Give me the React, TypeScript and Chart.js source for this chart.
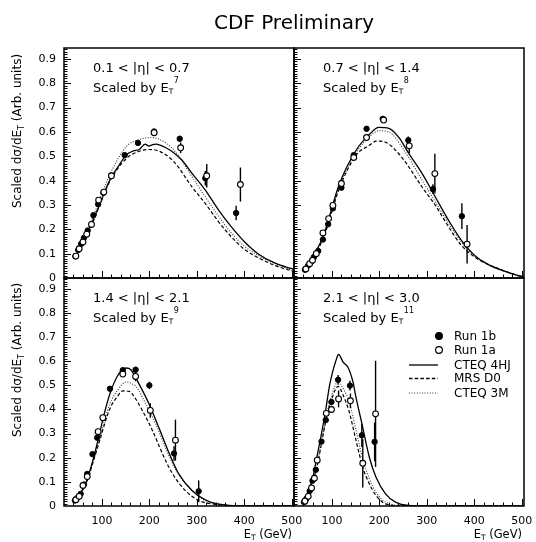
import React, { useEffect, useRef } from "react";
import { Chart, registerables } from "chart.js";

Chart.register(...registerables);

const W = 536;
const H = 542;
const FONT = "'DejaVu Sans', sans-serif";

// Axis ranges and ticks
const X_MIN = 20;
const X_MAX = 505;
const Y_MIN = 0;
const Y_MAX = 0.945;
const X_TICKS = [100, 200, 300, 400, 500];
const Y_TICKS = [0, 0.1, 0.2, 0.3, 0.4, 0.5, 0.6, 0.7, 0.8, 0.9];
const Y_TICK_LABELS = ["0", "0.1", "0.2", "0.3", "0.4", "0.5", "0.6", "0.7", "0.8", "0.9"];

const MAIN_TITLE = "CDF Preliminary";
const LEGEND_LABELS = ["Run 1b", "Run 1a", "CTEQ 4HJ", "MRS D0", "CTEQ 3M"];

// ---------- Panel 1: 0.1 < |eta| < 0.7 ----------
const TL_1B_X = [44, 50, 56, 62, 70, 82, 92, 103, 120, 148, 176, 210, 264, 318, 383];
const TL_1B_Y = [0.089, 0.115, 0.14, 0.165, 0.195, 0.258, 0.303, 0.35, 0.42, 0.505, 0.555, 0.602, 0.572, 0.41, 0.267];
const TL_1B_E = [0, 0, 0, 0, 0, 0, 0, 0, 0, 0.005, 0.008, 0.01, 0.012, 0.03, 0.03];
const TL_1A_X = [45, 52, 60, 68, 78, 93, 104, 120, 210, 266, 321, 392];
const TL_1A_Y = [0.09, 0.12, 0.148, 0.18, 0.22, 0.32, 0.353, 0.42, 0.597, 0.535, 0.42, 0.384];
const TL_1A_E = [0, 0, 0, 0, 0, 0, 0, 0, 0.01, 0.022, 0.048, 0.07];
const TL_4HJ_X = [44, 60, 81, 100, 116, 135, 151, 166, 179, 191, 199, 206, 213, 224, 234, 252, 269, 290, 318, 346, 373, 401, 429, 464, 492, 505];
const TL_4HJ_Y = [0.084, 0.15, 0.237, 0.325, 0.4, 0.46, 0.505, 0.522, 0.528, 0.55, 0.542, 0.547, 0.55, 0.545, 0.536, 0.514, 0.484, 0.43, 0.361, 0.279, 0.21, 0.148, 0.1, 0.062, 0.043, 0.037];
const TL_D0_X = [44, 81, 116, 151, 179, 200, 215, 252, 290, 318, 346, 373, 401, 429, 464, 492, 505];
const TL_D0_Y = [0.082, 0.23, 0.395, 0.49, 0.521, 0.528, 0.525, 0.477, 0.374, 0.306, 0.231, 0.169, 0.117, 0.084, 0.052, 0.034, 0.028];
const TL_3M_X = [44, 81, 116, 151, 179, 203, 220, 252, 290, 318, 346, 373, 401, 429, 464, 492, 505];
const TL_3M_Y = [0.086, 0.251, 0.422, 0.539, 0.569, 0.577, 0.571, 0.525, 0.416, 0.333, 0.254, 0.185, 0.13, 0.093, 0.059, 0.038, 0.032];

// ---------- Panel 2: 0.7 < |eta| < 1.4 ----------
const TR_1B_X = [43, 50, 57, 62, 71, 81, 92, 102, 120, 146, 173, 207, 261, 313, 374];
const TR_1B_Y = [0.034, 0.052, 0.068, 0.086, 0.111, 0.158, 0.221, 0.286, 0.371, 0.505, 0.613, 0.654, 0.566, 0.365, 0.254];
const TR_1B_E = [0, 0, 0, 0, 0, 0, 0, 0, 0, 0.005, 0.008, 0.01, 0.015, 0.02, 0.053];
const TR_1A_X = [45, 53, 59, 67, 81, 93, 102, 120, 146, 173, 209, 263, 317, 385];
const TR_1A_Y = [0.037, 0.059, 0.073, 0.1, 0.185, 0.244, 0.298, 0.388, 0.495, 0.577, 0.649, 0.543, 0.429, 0.139];
const TR_1A_E = [0, 0, 0, 0, 0, 0, 0, 0, 0, 0, 0.01, 0.03, 0.082, 0.079];
const TR_4HJ_X = [43, 81, 116, 151, 179, 199, 220, 241, 262, 290, 318, 346, 373, 401, 429, 464, 492, 505];
const TR_4HJ_Y = [0.034, 0.169, 0.388, 0.525, 0.59, 0.619, 0.615, 0.578, 0.512, 0.43, 0.333, 0.237, 0.155, 0.093, 0.056, 0.028, 0.01, 0.005];
const TR_D0_X = [43, 81, 116, 151, 179, 193, 203, 220, 252, 290, 318, 346, 373, 401, 429, 464, 492, 505];
const TR_D0_Y = [0.033, 0.16, 0.37, 0.505, 0.545, 0.562, 0.562, 0.55, 0.484, 0.374, 0.299, 0.21, 0.134, 0.086, 0.056, 0.029, 0.011, 0.006];
const TR_3M_X = [43, 81, 116, 151, 179, 199, 220, 252, 290, 318, 346, 373, 401, 429, 464, 492, 505];
const TR_3M_Y = [0.034, 0.165, 0.38, 0.514, 0.58, 0.605, 0.6, 0.525, 0.402, 0.313, 0.224, 0.148, 0.089, 0.056, 0.029, 0.01, 0.006];

// ---------- Panel 3: 1.4 < |eta| < 2.1 ----------
const BL_1B_X = [43, 48, 55, 62, 69, 80, 90, 102, 117, 144, 171, 200, 252, 304];
const BL_1B_Y = [0.023, 0.033, 0.05, 0.089, 0.133, 0.215, 0.283, 0.366, 0.486, 0.563, 0.565, 0.5, 0.218, 0.061];
const BL_1B_E = [0, 0, 0, 0, 0, 0, 0, 0, 0.005, 0.006, 0.01, 0.015, 0.03, 0.045];
const BL_1A_X = [45, 52, 60, 69, 92, 102, 144, 171, 202, 255];
const BL_1A_Y = [0.026, 0.04, 0.085, 0.122, 0.308, 0.366, 0.547, 0.537, 0.396, 0.273];
const BL_1A_E = [0, 0, 0, 0, 0, 0, 0.008, 0.02, 0.03, 0.085];
const BL_4HJ_X = [43, 60, 67, 81, 95, 102, 116, 133, 151, 161, 179, 200, 220, 241, 262, 290, 325, 360, 430, 505];
const BL_4HJ_Y = [0.023, 0.07, 0.1, 0.19, 0.3, 0.36, 0.46, 0.54, 0.572, 0.565, 0.503, 0.42, 0.325, 0.222, 0.133, 0.064, 0.019, 0.004, 0.0, 0.0];
const BL_D0_X = [43, 67, 81, 95, 116, 133, 144, 158, 165, 186, 207, 228, 249, 276, 304, 339, 400, 505];
const BL_D0_Y = [0.022, 0.095, 0.18, 0.27, 0.4, 0.455, 0.477, 0.475, 0.462, 0.393, 0.311, 0.215, 0.133, 0.064, 0.023, 0.007, 0.001, 0.0];
const BL_3M_X = [43, 67, 81, 95, 116, 133, 151, 165, 172, 193, 214, 234, 255, 283, 311, 346, 400, 505];
const BL_3M_Y = [0.023, 0.098, 0.185, 0.28, 0.42, 0.48, 0.514, 0.505, 0.496, 0.42, 0.338, 0.242, 0.153, 0.078, 0.03, 0.009, 0.001, 0.0];

// ---------- Panel 4: 2.1 < |eta| < 3.0 ----------
const BR_1B_X = [41, 46, 53, 59, 66, 78, 87, 99, 113, 138, 163, 190];
const BR_1B_Y = [0.016, 0.03, 0.062, 0.105, 0.15, 0.267, 0.356, 0.431, 0.523, 0.499, 0.293, 0.266];
const BR_1B_E = [0, 0, 0, 0, 0, 0, 0.01, 0.012, 0.02, 0.02, 0.048, 0.08];
const BR_1A_X = [43, 50, 57, 63, 69, 88, 99, 114, 139, 165, 192];
const BR_1A_Y = [0.02, 0.04, 0.075, 0.115, 0.19, 0.384, 0.4, 0.444, 0.436, 0.177, 0.382];
const BR_1A_E = [0, 0, 0, 0, 0, 0.01, 0.015, 0.035, 0.03, 0.1, 0.22];
const BR_4HJ_X = [41, 60, 67, 78, 87, 95, 102, 108, 114, 124, 134, 144, 151, 165, 179, 193, 213, 234, 262, 300, 505];
const BR_4HJ_Y = [0.016, 0.12, 0.19, 0.3, 0.4, 0.5, 0.56, 0.6, 0.628, 0.595, 0.574, 0.517, 0.448, 0.325, 0.201, 0.119, 0.05, 0.016, 0.002, 0.0, 0.0];
const BR_D0_X = [41, 67, 78, 87, 99, 113, 123, 136, 151, 165, 179, 193, 213, 250, 505];
const BR_D0_Y = [0.015, 0.15, 0.26, 0.35, 0.44, 0.496, 0.462, 0.393, 0.27, 0.16, 0.091, 0.044, 0.009, 0.001, 0.0];
const BR_3M_X = [41, 67, 78, 87, 99, 113, 123, 137, 151, 165, 179, 193, 213, 250, 505];
const BR_3M_Y = [0.016, 0.155, 0.265, 0.36, 0.455, 0.517, 0.489, 0.428, 0.311, 0.194, 0.112, 0.057, 0.016, 0.002, 0.0];

type Series = { x: number[]; y: number[]; e?: number[] };
type Panel = {
  key: string;
  box: [number, number, number, number];
  showX: boolean;
  showY: boolean;
  eta: string;
  power: string;
  b: Series;
  a: Series;
  cteq4hj: Series;
  mrsd0: Series;
  cteq3m: Series;
  legend: boolean;
  mainTitle: boolean;
};

const PANELS: Panel[] = [
  {
    key: "tl", box: [64, 48, 294, 278], showX: false, showY: true,
    eta: "0.1 < |η| < 0.7", power: "7",
    b: { x: TL_1B_X, y: TL_1B_Y, e: TL_1B_E }, a: { x: TL_1A_X, y: TL_1A_Y, e: TL_1A_E },
    cteq4hj: { x: TL_4HJ_X, y: TL_4HJ_Y }, mrsd0: { x: TL_D0_X, y: TL_D0_Y }, cteq3m: { x: TL_3M_X, y: TL_3M_Y },
    legend: false, mainTitle: true,
  },
  {
    key: "tr", box: [294, 48, 524, 278], showX: false, showY: false,
    eta: "0.7 < |η| < 1.4", power: "8",
    b: { x: TR_1B_X, y: TR_1B_Y, e: TR_1B_E }, a: { x: TR_1A_X, y: TR_1A_Y, e: TR_1A_E },
    cteq4hj: { x: TR_4HJ_X, y: TR_4HJ_Y }, mrsd0: { x: TR_D0_X, y: TR_D0_Y }, cteq3m: { x: TR_3M_X, y: TR_3M_Y },
    legend: false, mainTitle: false,
  },
  {
    key: "bl", box: [64, 278, 294, 506], showX: true, showY: true,
    eta: "1.4 < |η| < 2.1", power: "9",
    b: { x: BL_1B_X, y: BL_1B_Y, e: BL_1B_E }, a: { x: BL_1A_X, y: BL_1A_Y, e: BL_1A_E },
    cteq4hj: { x: BL_4HJ_X, y: BL_4HJ_Y }, mrsd0: { x: BL_D0_X, y: BL_D0_Y }, cteq3m: { x: BL_3M_X, y: BL_3M_Y },
    legend: false, mainTitle: false,
  },
  {
    key: "br", box: [294, 278, 524, 506], showX: true, showY: false,
    eta: "2.1 < |η| < 3.0", power: "11",
    b: { x: BR_1B_X, y: BR_1B_Y, e: BR_1B_E }, a: { x: BR_1A_X, y: BR_1A_Y, e: BR_1A_E },
    cteq4hj: { x: BR_4HJ_X, y: BR_4HJ_Y }, mrsd0: { x: BR_D0_X, y: BR_D0_Y }, cteq3m: { x: BR_3M_X, y: BR_3M_Y },
    legend: true, mainTitle: false,
  },
];

const YW = 60;
const XH = 34;

const pts = (s: Series) => s.x.map((x, i) => ({ x, y: s.y[i] }));

function drawCircle(ctx: CanvasRenderingContext2D, x: number, y: number, r: number, filled: boolean) {
  ctx.beginPath();
  ctx.arc(x, y, r, 0, Math.PI * 2);
  ctx.fillStyle = filled ? "#000" : "#fff";
  ctx.fill();
  ctx.lineWidth = 1.2;
  ctx.strokeStyle = "#000";
  ctx.stroke();
}

function makePlugin(panel: Panel) {
  return {
    id: "panelDecor_" + panel.key,
    beforeDatasetsDraw(chart: any) {
      const ctx: CanvasRenderingContext2D = chart.ctx;
      const xs = chart.scales.x;
      const ys = chart.scales.y;
      ctx.save();
      ctx.strokeStyle = "#000";
      ctx.lineWidth = 1.4;
      for (const s of [panel.b, panel.a]) {
        s.x.forEach((xv, i) => {
          const e = s.e ? s.e[i] : 0;
          if (!e) return;
          const px = xs.getPixelForValue(xv);
          ctx.beginPath();
          ctx.moveTo(px, ys.getPixelForValue(s.y[i] - e));
          ctx.lineTo(px, ys.getPixelForValue(s.y[i] + e));
          ctx.stroke();
        });
      }
      ctx.restore();
    },
    afterDatasetsDraw(chart: any) {
      const ctx: CanvasRenderingContext2D = chart.ctx;
      const ca = chart.chartArea;
      const xs = chart.scales.x;
      const ys = chart.scales.y;
      ctx.save();
      // frame
      ctx.strokeStyle = "#000";
      ctx.lineWidth = 1.5;
      ctx.strokeRect(ca.left, ca.top, ca.right - ca.left, ca.bottom - ca.top);
      // inward ticks: bottom (x) and left (y)
      ctx.lineWidth = 1;
      ctx.beginPath();
      for (let v = 40; v <= 500; v += 20) {
        const px = Math.round(xs.getPixelForValue(v)) + 0.5;
        const len = v % 100 === 0 ? 7 : 3.5;
        ctx.moveTo(px, ca.bottom);
        ctx.lineTo(px, ca.bottom - len);
      }
      for (let i = 1; i <= 94; i++) {
        const py = Math.round(ys.getPixelForValue(i / 100)) + 0.5;
        const len = i % 10 === 0 ? 7 : 3.5;
        ctx.moveTo(ca.left, py);
        ctx.lineTo(ca.left + len, py);
      }
      ctx.stroke();

      // panel labels
      ctx.fillStyle = "#000";
      ctx.textAlign = "left";
      ctx.textBaseline = "alphabetic";
      const lx = ca.left + 29;
      ctx.font = `13px ${FONT}`;
      ctx.fillText(panel.eta, lx, ca.top + 24);
      const by = ca.top + 44;
      const s1 = "Scaled by E";
      ctx.fillText(s1, lx, by);
      let cx = lx + ctx.measureText(s1).width;
      ctx.font = `7.5px ${FONT}`;
      ctx.fillText("T", cx, by + 1.5);
      cx += ctx.measureText("T").width + 0.6;
      ctx.font = `8px ${FONT}`;
      ctx.fillText(panel.power, cx, by - 9);

      // y title
      if (panel.showY) {
        const cy = (ca.top + ca.bottom) / 2 - 32;
        ctx.save();
        ctx.translate(21, cy);
        ctx.rotate(-Math.PI / 2);
        const f1 = `12px ${FONT}`;
        const f2 = `8px ${FONT}`;
        const a1 = "Scaled dσ/dE";
        const a3 = " (Arb. units)";
        ctx.font = f1;
        const w1 = ctx.measureText(a1).width;
        const w3 = ctx.measureText(a3).width;
        ctx.font = f2;
        const w2 = ctx.measureText("T").width;
        let tx = -(w1 + w2 + w3) / 2;
        ctx.font = f1;
        ctx.fillText(a1, tx, 0);
        tx += w1;
        ctx.font = f2;
        ctx.fillText("T", tx, 2.5);
        tx += w2;
        ctx.font = f1;
        ctx.fillText(a3, tx, 0);
        ctx.restore();
      }
      // x title
      if (panel.showX) {
        const f1 = `11.5px ${FONT}`;
        const f2 = `7.5px ${FONT}`;
        ctx.font = f1;
        const w3 = ctx.measureText(" (GeV)").width;
        const w1 = ctx.measureText("E").width;
        ctx.font = f2;
        const w2 = ctx.measureText("T").width;
        let tx = ca.right - 2 - (w1 + w2 + w3);
        const ty = 538;
        ctx.font = f1;
        ctx.fillText("E", tx, ty);
        tx += w1;
        ctx.font = f2;
        ctx.fillText("T", tx, ty + 2);
        tx += w2;
        ctx.font = f1;
        ctx.fillText(" (GeV)", tx, ty);
      }
      // main title
      if (panel.mainTitle) {
        ctx.font = `20px ${FONT}`;
        ctx.textAlign = "center";
        ctx.fillText(MAIN_TITLE, 294, 29);
        ctx.textAlign = "left";
      }
      // legend
      if (panel.legend) {
        const mx = ca.left + 145;
        const tx = ca.left + 160;
        const rows = [ca.top + 58, ca.top + 72, ca.top + 87, ca.top + 100.5, ca.top + 115];
        ctx.font = `12px ${FONT}`;
        ctx.textBaseline = "middle";
        drawCircle(ctx, mx, rows[0], 3.4, true);
        drawCircle(ctx, mx, rows[1], 3.4, false);
        const dashes = [[], [3.5, 2.2], [1, 1.6]];
        for (let k = 0; k < 3; k++) {
          ctx.beginPath();
          ctx.setLineDash(dashes[k]);
          ctx.lineWidth = k === 2 ? 1.1 : 1.3;
          ctx.strokeStyle = k === 2 ? "#333" : "#000";
          ctx.moveTo(ca.left + 115, rows[k + 2]);
          ctx.lineTo(ca.left + 144, rows[k + 2]);
          ctx.stroke();
        }
        ctx.setLineDash([]);
        ctx.fillStyle = "#000";
        LEGEND_LABELS.forEach((l, i) => ctx.fillText(l, tx, rows[i] + 0.5));
      }
      ctx.restore();
    },
  };
}

function PanelChart({ panel }: { panel: Panel }) {
  const ref = useRef<HTMLCanvasElement>(null);
  useEffect(() => {
    const [l, t, r, b] = panel.box;
    const chart = new Chart(ref.current as HTMLCanvasElement, {
      type: "scatter",
      data: {
        datasets: [
          {
            label: LEGEND_LABELS[1], data: pts(panel.a), showLine: false,
            pointRadius: 2.9, pointBackgroundColor: "#fff", pointBorderColor: "#000", pointBorderWidth: 1.1,
          },
          {
            label: LEGEND_LABELS[0], data: pts(panel.b), showLine: false,
            pointRadius: 2.7, pointBackgroundColor: "#000", pointBorderColor: "#000", pointBorderWidth: 1,
          },
          {
            label: LEGEND_LABELS[2], data: pts(panel.cteq4hj), showLine: true, pointRadius: 0,
            borderColor: "#000", borderWidth: 1.3, cubicInterpolationMode: "monotone",
          },
          {
            label: LEGEND_LABELS[3], data: pts(panel.mrsd0), showLine: true, pointRadius: 0,
            borderColor: "#000", borderWidth: 1.2, borderDash: [3.5, 2.2], cubicInterpolationMode: "monotone",
          },
          {
            label: LEGEND_LABELS[4], data: pts(panel.cteq3m), showLine: true, pointRadius: 0,
            borderColor: "#333", borderWidth: 1.1, borderDash: [1, 1.6], cubicInterpolationMode: "monotone",
          },
        ] as any,
      },
      options: {
        responsive: false,
        animation: false,
        devicePixelRatio: 1,
        events: [],
        layout: {
          padding: {
            left: l - (panel.showY ? YW : 0),
            top: t,
            right: W - r,
            bottom: H - b - (panel.showX ? XH : 0),
          },
        },
        plugins: { legend: { display: false }, tooltip: { enabled: false }, title: { display: false } },
        scales: {
          x: {
            type: "linear", position: "bottom", min: X_MIN, max: X_MAX,
            grid: { display: false, drawTicks: false },
            border: { display: false },
            ticks: {
              display: panel.showX, color: "#000", font: { family: FONT, size: 11 }, padding: 9,
              maxRotation: 0, autoSkip: false, callback: (v: any) => String(v),
            },
            afterBuildTicks: (s: any) => { s.ticks = X_TICKS.map((v) => ({ value: v })); },
            afterFit: (s: any) => { s.height = panel.showX ? XH : 0; s.paddingLeft = 0; s.paddingRight = 0; },
          },
          y: {
            type: "linear", position: "left", min: Y_MIN, max: Y_MAX,
            grid: { display: false, drawTicks: false },
            border: { display: false },
            ticks: {
              display: panel.showY, color: "#000", font: { family: FONT, size: 11 }, padding: 8,
              autoSkip: false, callback: (_v: any, i: number) => Y_TICK_LABELS[i],
            },
            afterBuildTicks: (s: any) => { s.ticks = Y_TICKS.map((v) => ({ value: v })); },
            afterFit: (s: any) => { s.width = panel.showY ? YW : 0; s.paddingTop = 0; s.paddingBottom = 0; },
          },
        },
      } as any,
      plugins: [makePlugin(panel)],
    });
    return () => chart.destroy();
  }, [panel]);
  return (
    <canvas
      ref={ref}
      width={W}
      height={H}
      style={{ position: "absolute", left: 0, top: 0, width: W, height: H }}
    />
  );
}

export default function App() {
  return (
    <div style={{ position: "fixed", left: 0, top: 0, width: W, height: H, background: "#fff" }}>
      {PANELS.map((p) => (
        <PanelChart key={p.key} panel={p} />
      ))}
    </div>
  );
}
